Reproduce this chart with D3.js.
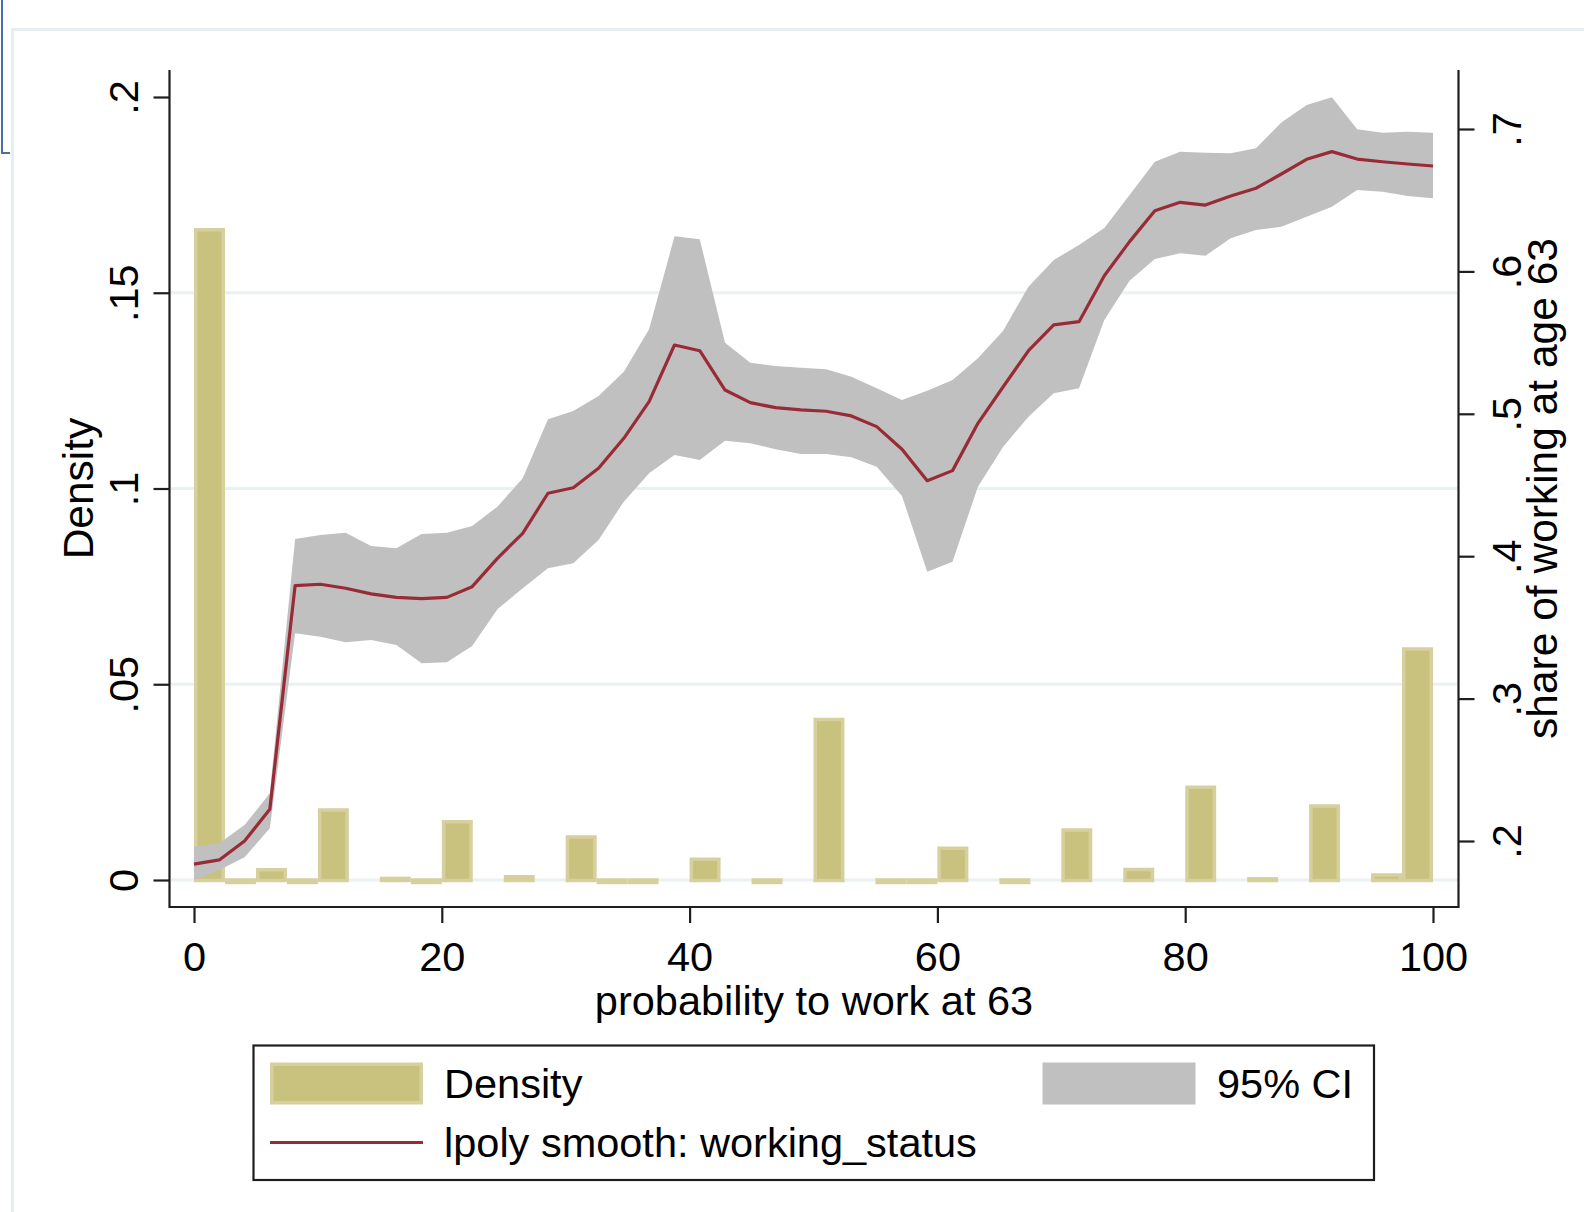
<!DOCTYPE html>
<html>
<head>
<meta charset="utf-8">
<script src="https://cdn.jsdelivr.net/npm/d3@7"></script>
<style>
  html, body { margin: 0; padding: 0; background: #ffffff; }
  svg { display: block; }
  text { font-family: "Liberation Sans", Arial, Helvetica, sans-serif; fill: #000; }
</style>
</head>
<body>
<svg id="chart" width="1584" height="1212"></svg>
<script>
// ---- Histogram of the stated probability (bin width 2.5) ----
const binWidth = 2.5;
const binStarts  = [0, 2.5, 5, 7.5, 10, 15, 17.5, 20, 25, 30, 32.5, 35, 40, 45, 50, 55, 57.5, 60, 65, 70, 75, 80, 85, 90, 95, 97.5];
const binDensity = [0.1661, 0, 0.0026, 0, 0.0179, 0.0004, 0, 0.0149, 0.0008, 0.0110, 0, 0, 0.0053, 0, 0.0410, 0, 0, 0.0081, 0, 0.0128, 0.0027, 0.0237, 0.0003, 0.0189, 0.0013, 0.0590];

// ---- Local polynomial smooth of working_status on its 50-point grid ----
const gridX = [0, 2.04, 4.08, 6.12, 8.16, 10.2, 12.24, 14.29, 16.33, 18.37,
  20.41, 22.45, 24.49, 26.53, 28.57, 30.61, 32.65, 34.69, 36.73, 38.78,
  40.82, 42.86, 44.9, 46.94, 48.98, 51.02, 53.06, 55.1, 57.14, 59.18,
  61.22, 63.27, 65.31, 67.35, 69.39, 71.43, 73.47, 75.51, 77.55, 79.59,
  81.63, 83.67, 85.71, 87.76, 89.8, 91.84, 93.88, 95.92, 97.96, 100];
const smooth = [0.1838, 0.1867, 0.2000, 0.2223, 0.3793, 0.3803, 0.3775, 0.3735, 0.3711, 0.3702,
  0.3711, 0.3786, 0.3985, 0.4161, 0.4442, 0.4481, 0.4617, 0.4828, 0.5085, 0.5483,
  0.5443, 0.5167, 0.5078, 0.5043, 0.5027, 0.5018, 0.4985, 0.4910, 0.4751, 0.4530,
  0.4601, 0.4933, 0.5190, 0.5443, 0.5624, 0.5647, 0.5970, 0.6209, 0.6426, 0.6485,
  0.6466, 0.6530, 0.6584, 0.6684, 0.6787, 0.6841, 0.6789, 0.6770, 0.6754, 0.6740];
const ciUpper = [0.1960, 0.1984, 0.2112, 0.2335, 0.4121, 0.4149, 0.4165, 0.4072, 0.4055, 0.4156,
  0.4165, 0.4212, 0.4348, 0.4547, 0.4961, 0.5020, 0.5125, 0.5296, 0.5593, 0.6246,
  0.6225, 0.5499, 0.5359, 0.5336, 0.5324, 0.5312, 0.5261, 0.5179, 0.5097, 0.5162,
  0.5237, 0.5390, 0.5584, 0.5893, 0.6080, 0.6185, 0.6305, 0.6537, 0.6770, 0.6841,
  0.6834, 0.6829, 0.6864, 0.7045, 0.7169, 0.7223, 0.6998, 0.6974, 0.6981, 0.6974];
const ciLower = [0.1726, 0.1796, 0.1886, 0.2089, 0.3459, 0.3435, 0.3395, 0.3412, 0.3376, 0.3248,
  0.3255, 0.3369, 0.3627, 0.3775, 0.3915, 0.3950, 0.4114, 0.4383, 0.4582, 0.4711,
  0.4676, 0.4811, 0.4793, 0.4751, 0.4718, 0.4718, 0.4695, 0.4629, 0.4423, 0.3891,
  0.3961, 0.4488, 0.4769, 0.4980, 0.5144, 0.5179, 0.5659, 0.5935, 0.6087, 0.6127,
  0.6110, 0.6232, 0.6291, 0.6314, 0.6384, 0.6454, 0.6572, 0.6560, 0.6530, 0.6513];

// ---- Axis ticks and text ----
const xTicks = [0, 20, 40, 60, 80, 100];
const yLeftTicks = [0, 0.05, 0.1, 0.15, 0.2];
const yLeftGrid = [0, 0.05, 0.1, 0.15];
const yRightTicks = [0.2, 0.3, 0.4, 0.5, 0.6, 0.7];
const xTitle = "probability to work at 63";
const yLeftTitle = "Density";
const yRightTitle = "share of working at age 63";
const legendLabels = ["Density", "95% CI", "lpoly smooth: working_status"];

// ---- Styling ----
const barFill = "#c9c27f", barEdge = "#d6d09e";
const ciFill = "#c0c0c0";
const lineColor = "#992b36";
const gridColor = "#eaf1f3";
const axisColor = "#1e1e1e";
const fontSize = 41.5;

const svg = d3.select("#chart");
svg.append("rect").attr("width", 1584).attr("height", 1212).attr("fill", "#fff");

// outer frame and corner marker
svg.append("path").attr("d", "M12.5,1212 V29.5 H1584")
  .attr("fill", "none").attr("stroke", "#e6eef2").attr("stroke-width", 3);
svg.append("path").attr("d", "M2,0 V153 H10")
  .attr("fill", "none").attr("stroke", "#4a6ea6").attr("stroke-width", 2);

// scales
const x = d3.scaleLinear().domain([0, 100]).range([194, 1433]);
const yDens = d3.scaleLinear().domain([0, 0.2]).range([880, 97]);
const yShare = d3.scaleLinear().domain([0.2, 0.7]).range([841, 129]);

const plotLeft = 169.5, plotRight = 1458.5, plotTop = 70, plotBottom = 907;

// grid lines
svg.append("g").selectAll("line").data(yLeftGrid).join("line")
  .attr("x1", plotLeft + 1).attr("x2", plotRight - 1)
  .attr("y1", d => yDens(d)).attr("y2", d => yDens(d))
  .attr("stroke", gridColor).attr("stroke-width", 3);

// histogram bars (outline drawn inside the bin; empty bins show as a thin strip on the baseline)
const edgeW = 3.5, inset = edgeW / 2;
svg.append("g").selectAll("path").data(binStarts).join("path")
  .attr("d", (s, i) => {
    const v = binDensity[i];
    const x0 = x(s) + inset, x1 = x(s + binWidth) - inset;
    const yt = yDens(v), yb = yDens(0) + (v === 0 ? 2.5 : 0.5);
    return `M${x0},${yb}V${yt}H${x1}V${yb}Z`;
  })
  .attr("fill", barFill).attr("stroke", barEdge).attr("stroke-width", edgeW);

// confidence band
const band = d3.area()
  .x((d, i) => x(gridX[i]))
  .y0((d, i) => yShare(ciLower[i]))
  .y1((d, i) => yShare(ciUpper[i]));
svg.append("path").datum(gridX).attr("d", band).attr("fill", ciFill);

// smooth line
const line = d3.line().x((d, i) => x(gridX[i])).y(d => yShare(d));
svg.append("path").datum(smooth).attr("d", line)
  .attr("fill", "none").attr("stroke", lineColor).attr("stroke-width", 3.2)
  .attr("stroke-linejoin", "round");

// axis lines
svg.append("path")
  .attr("d", `M${plotLeft},${plotTop}V${plotBottom}H${plotRight}V${plotTop}`)
  .attr("fill", "none").attr("stroke", axisColor).attr("stroke-width", 2.2);

const stataFmt = d => d === 0 ? "0" : String(+d.toFixed(3)).replace(/^0\./, ".");

function styleAxis(g) {
  g.select(".domain").remove();
  g.selectAll(".tick line").attr("stroke", axisColor).attr("stroke-width", 2.2);
  g.selectAll(".tick text").attr("font-size", fontSize)
    .attr("font-family", '"Liberation Sans", Arial, sans-serif').attr("fill", "#000");
}

// bottom axis
const gx = svg.append("g").attr("transform", `translate(0,${plotBottom})`)
  .call(d3.axisBottom(x).tickValues(xTicks).tickSize(16).tickFormat(d3.format("d")));
styleAxis(gx);
gx.selectAll(".tick text").attr("y", 64).attr("dy", null);

// left axis (rotated labels)
const gl = svg.append("g").attr("transform", `translate(${plotLeft},0)`)
  .call(d3.axisLeft(yDens).tickValues(yLeftTicks).tickSize(16).tickFormat(stataFmt));
styleAxis(gl);
gl.selectAll(".tick text").attr("x", 0).attr("y", 0).attr("dy", null)
  .attr("text-anchor", "middle").attr("transform", "translate(-32,0) rotate(-90)");

// right axis (rotated labels)
const gr = svg.append("g").attr("transform", `translate(${plotRight},0)`)
  .call(d3.axisRight(yShare).tickValues(yRightTicks).tickSize(16).tickFormat(stataFmt));
styleAxis(gr);
gr.selectAll(".tick text").attr("x", 0).attr("y", 0).attr("dy", null)
  .attr("text-anchor", "middle").attr("transform", "translate(62,0) rotate(-90)");

// axis titles
const yMid = (yDens(0) + yDens(0.2)) / 2;
svg.append("text").attr("x", (plotLeft + plotRight) / 2).attr("y", 1015)
  .attr("text-anchor", "middle").attr("font-size", fontSize).text(xTitle);
svg.append("text").attr("transform", `translate(93,${yMid}) rotate(-90)`)
  .attr("text-anchor", "middle").attr("font-size", 42.5).text(yLeftTitle);
svg.append("text").attr("transform", `translate(1557,${yMid}) rotate(-90)`)
  .attr("text-anchor", "middle").attr("font-size", 42.5).text(yRightTitle);

// legend
const lg = svg.append("g");
lg.append("rect").attr("x", 253.5).attr("y", 1045.5).attr("width", 1120.5).attr("height", 134.5)
  .attr("fill", "#fff").attr("stroke", axisColor).attr("stroke-width", 2.2);
lg.append("rect").attr("x", 270 + inset).attr("y", 1062.5 + inset)
  .attr("width", 153 - 2 * inset).attr("height", 42 - 2 * inset)
  .attr("fill", barFill).attr("stroke", barEdge).attr("stroke-width", edgeW);
lg.append("text").attr("x", 444).attr("y", 1098).attr("font-size", fontSize).text(legendLabels[0]);
lg.append("rect").attr("x", 1042.5).attr("y", 1062.5).attr("width", 153).attr("height", 42)
  .attr("fill", ciFill);
lg.append("text").attr("x", 1217).attr("y", 1098).attr("font-size", fontSize).text(legendLabels[1]);
lg.append("line").attr("x1", 270).attr("x2", 423).attr("y1", 1142.5).attr("y2", 1142.5)
  .attr("stroke", lineColor).attr("stroke-width", 3.2);
lg.append("text").attr("x", 444).attr("y", 1157).attr("font-size", fontSize).text(legendLabels[2]);
</script>
</body>
</html>
